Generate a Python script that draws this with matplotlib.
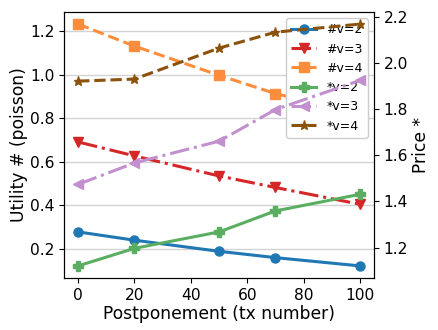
import matplotlib.pyplot as plt

# postponement values (tx number)
x = [0, 20, 50, 70, 100]

# utility (left axis)
u_v2 = [0.278, 0.240, 0.189, 0.160, 0.122]
u_v3 = [0.691, 0.627, 0.535, 0.482, 0.405]
u_v4 = [1.232, 1.131, 0.997, 0.913, 0.820]

# price (right axis)
p_v2 = [1.121, 1.197, 1.268, 1.359, 1.431]
p_v3 = [1.474, 1.567, 1.661, 1.798, 1.924]
p_v4 = [1.921, 1.930, 2.064, 2.133, 2.168]

fig = plt.figure(figsize=(4.39, 3.3), dpi=100)
ax1 = fig.add_axes([0.1458, 0.1576, 0.7062, 0.806])
ax2 = ax1.twinx()

lw = 2.2
ms = 6.5
l1, = ax1.plot(x, u_v2, '-', marker='o', color='#1f77b4', lw=lw, ms=ms, label='#v=2')
l2, = ax1.plot(x, u_v3, '-.', marker='v', color='#d62728', lw=lw, ms=ms, label='#v=3')
l3, = ax1.plot(x, u_v4, '--', marker='s', color='#fd8d3c', lw=lw, ms=ms, label='#v=4')
l4, = ax2.plot(x, p_v2, '-', marker='P', color='#5aae61', lw=lw, ms=ms, label='*v=2')
l5, = ax2.plot(x, p_v3, '-.', marker='<', color='#c28fcf', lw=lw, ms=ms, label='*v=3')
l6, = ax2.plot(x, p_v4, '--', marker='*', color='#8c510a', lw=lw, ms=ms, label='*v=4')

ax1.grid(axis='y', color='#d3d3d3', lw=1)
ax1.set_xticks([0, 20, 40, 60, 80, 100])
ax1.set_yticks([0.2, 0.4, 0.6, 0.8, 1.0, 1.2])
ax2.set_yticks([1.2, 1.4, 1.6, 1.8, 2.0, 2.2])
ax1.tick_params(labelsize=11.2)
ax2.tick_params(labelsize=11.2)
ax1.set_xlabel('Postponement (tx number)', fontsize=12.3, labelpad=1.5)
ax1.set_ylabel('Utility # (poisson)', fontsize=12.3, labelpad=1)
ax2.set_ylabel('Price *', fontsize=12.3, labelpad=3)

ax1.legend(handles=[l1, l2, l3, l4, l5, l6], loc='upper right', fontsize=9,
           framealpha=1)

fig.savefig('out.png', dpi=100)
